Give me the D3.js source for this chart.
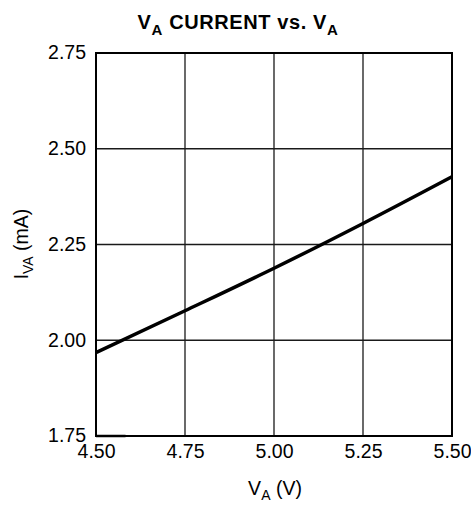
<!DOCTYPE html>
<html>
<head>
<meta charset="utf-8">
<script src="https://cdnjs.cloudflare.com/ajax/libs/d3/7.8.5/d3.min.js"></script>
<style>
  body { margin: 0; background: #fff; }
  text { font-family: "Liberation Sans", Arial, sans-serif; fill: #000; }
</style>
</head>
<body>
<div id="chart"></div>
<script>
// V_A current vs V_A
var svgWidth = 471;
var svgHeight = 508;

var margin = { top: 53, right: 19, bottom: 72, left: 96 };
var width = svgWidth - margin.left - margin.right;
var height = svgHeight - margin.top - margin.bottom;

// data
var voltage = [4.50, 4.75, 5.00, 5.25, 5.50];
var current = [1.968, 2.077, 2.188, 2.305, 2.427];
var xTicks = [4.50, 4.75, 5.00, 5.25, 5.50];
var yTicks = [1.75, 2.00, 2.25, 2.50, 2.75];

var svg = d3.select("#chart")
  .append("svg")
  .attr("width", svgWidth)
  .attr("height", svgHeight);

var chartGroup = svg.append("g")
  .attr("transform", `translate(${margin.left}, ${margin.top})`);

var xScale = d3.scaleLinear().domain([4.5, 5.5]).range([0, width]);
var yScale = d3.scaleLinear().domain([1.75, 2.75]).range([height, 0]);

// grid lines
chartGroup.append("g")
  .selectAll("line")
  .data(xTicks.slice(1, -1))
  .enter()
  .append("line")
  .attr("x1", d => xScale(d)).attr("x2", d => xScale(d))
  .attr("y1", 0).attr("y2", height)
  .attr("stroke", "#1a1a1a").attr("stroke-width", 1.3);

chartGroup.append("g")
  .selectAll("line")
  .data(yTicks.slice(1, -1))
  .enter()
  .append("line")
  .attr("x1", 0).attr("x2", width)
  .attr("y1", d => yScale(d)).attr("y2", d => yScale(d))
  .attr("stroke", "#1a1a1a").attr("stroke-width", 1.3);

// frame
chartGroup.append("rect")
  .attr("width", width).attr("height", height)
  .attr("fill", "none").attr("stroke", "#000").attr("stroke-width", 2);

// small stub on the bottom edge
chartGroup.append("line")
  .attr("x1", xScale(4.5)).attr("x2", xScale(4.583))
  .attr("y1", yScale(1.75)).attr("y2", yScale(1.75))
  .attr("stroke", "#000").attr("stroke-width", 2.5);

// tick labels
var bottomAxis = d3.axisBottom(xScale).tickValues(xTicks).tickFormat(d3.format(".2f")).tickSize(0).tickPadding(8);
var leftAxis = d3.axisLeft(yScale).tickValues(yTicks).tickFormat(d3.format(".2f")).tickSize(0).tickPadding(10);

var xAxis = chartGroup.append("g")
  .attr("transform", `translate(0, ${height})`)
  .call(bottomAxis);
var yAxis = chartGroup.append("g").call(leftAxis);

[xAxis, yAxis].forEach(function(ax) {
  ax.select(".domain").remove();
  ax.selectAll("text").attr("font-size", "19.5px").attr("fill", "#000")
    .style("font-family", "'Liberation Sans', Arial, sans-serif");
});
yAxis.selectAll("text").attr("dy", "0.3em");

// data line
var line = d3.line()
  .x((d, i) => xScale(voltage[i]))
  .y(d => yScale(d))
  .curve(d3.curveMonotoneX);

chartGroup.append("path")
  .datum(current)
  .attr("d", line)
  .attr("fill", "none")
  .attr("stroke", "#000")
  .attr("stroke-width", 3.5);

// title
var title = svg.append("text")
  .attr("x", 238).attr("y", 29)
  .attr("text-anchor", "middle")
  .attr("font-size", "20px")
  .attr("letter-spacing", "0.6px")
  .attr("font-weight", "bold");
title.append("tspan").text("V");
title.append("tspan").attr("dy", 6).attr("font-size", "15px").text("A");
title.append("tspan").attr("dy", -6).text(" CURRENT vs. V");
title.append("tspan").attr("dy", 6).attr("font-size", "15px").text("A");

// x label
var xlabel = svg.append("text")
  .attr("x", margin.left + width / 2 + 1).attr("y", 495)
  .attr("text-anchor", "middle")
  .attr("font-size", "19.5px");
xlabel.append("tspan").text("V");
xlabel.append("tspan").attr("dy", 5).attr("font-size", "14px").text("A");
xlabel.append("tspan").attr("dy", -5).text(" (V)");

// y label
var ylabel = svg.append("text")
  .attr("transform", `translate(28, 244) rotate(-90)`)
  .attr("text-anchor", "middle")
  .attr("font-size", "19.5px");
ylabel.append("tspan").text("I");
ylabel.append("tspan").attr("dy", 5).attr("font-size", "14px").text("VA");
ylabel.append("tspan").attr("dy", -5).text(" (mA)");
</script>
</body>
</html>
